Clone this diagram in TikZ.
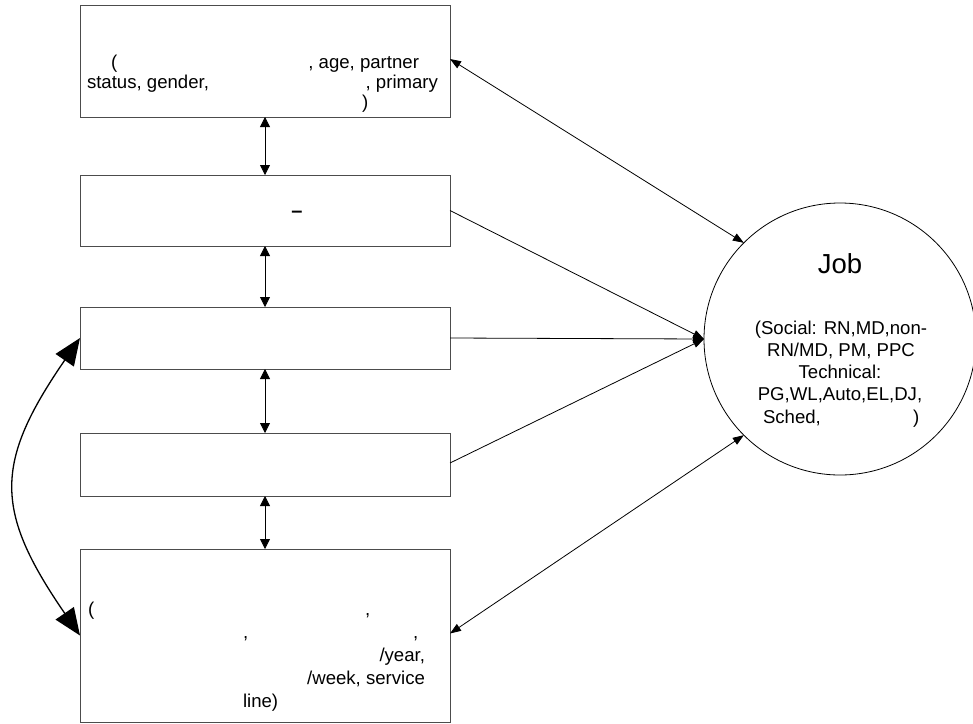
\documentclass[tikz,border=0pt]{standalone}
\usepackage{fontspec}
\setmainfont{Liberation Sans}
\usetikzlibrary{arrows.meta}

\begin{document}
\begin{tikzpicture}[x=1pt, y=-1pt,
  box/.style={draw=black!70, line width=0.9pt, rectangle, minimum width=370pt, inner sep=0pt, outer sep=0pt},
  txt/.style={inner sep=0pt, outer sep=0pt, font=\fontsize{18.6}{22}\selectfont},
  link/.style={line width=0.8pt, draw=black},
  vlink/.style={link, {Triangle[width=10pt,length=10pt]}-{Triangle[width=10pt,length=10pt]}},
  tojob/.style={link, -{Triangle[width=8pt,length=11pt]}},
  bothjob/.style={link, {Triangle[width=8pt,length=11pt]}-{Triangle[width=8pt,length=11pt]}},
  bigarc/.style={line width=1.3pt, {Triangle[width=22pt,length=27pt]}-{Triangle[width=22pt,length=27pt]}}
]
\useasboundingbox (0,0) rectangle (973,723);

% five boxes on the left
\node[box, minimum height=112pt] (b1) at (265,61) {};
\node[box, minimum height=71pt]  (b2) at (265,210.5) {};
\node[box, minimum height=62pt]  (b3) at (265,338) {};
\node[box, minimum height=63pt]  (b4) at (265,464.5) {};
\node[box, minimum height=173pt] (b5) at (265,635.5) {};

% the Job circle
\node[circle, draw=black, line width=0.8pt, minimum size=272pt, inner sep=0pt, outer sep=0pt] (job) at (840,339) {};

% texts of box 1
\node[txt, anchor=base west] (t1a) at (111,68) {(};
\node[txt, anchor=base east] (t1b) at (419,68) {, age, partner};
\node[txt, anchor=base west] (t1c) at (87,88) {status, gender,};
\node[txt, anchor=base east] (t1d) at (438,88) {, primary};
\node[txt, anchor=base west] (t1e) at (362,108) {)};

% text of box 2
\node[inner sep=0pt, outer sep=0pt, anchor=base, font=\fontsize{20}{22}\selectfont\bfseries] (t2a) at (297,217) {–};

% texts of box 5
\node[txt, anchor=base west] (t5a) at (88,615) {(};
\node[txt, anchor=base west] (t5b) at (365,615) {,};
\node[txt, anchor=base west] (t5c) at (243,638) {,};
\node[txt, anchor=base west] (t5d) at (413,638) {,};
\node[txt, anchor=base east] (t5e) at (425,661) {/year,};
\node[txt, anchor=base east] (t5f) at (425,684) {/week, service};
\node[txt, anchor=base west] (t5g) at (243,707) {line)};

% texts of the circle
\node[inner sep=0pt, outer sep=0pt, anchor=base, font=\fontsize{27.5}{30}\selectfont] (tj) at (840,273) {Job};
\node[txt, anchor=base] (tja) at (841,334) {(Social: RN,MD,non-};
\node[txt, anchor=base] (tjb) at (841,356) {RN/MD, PM, PPC};
\node[txt, anchor=base] (tjc) at (840,378) {Technical:};
\node[txt, anchor=base] (tjd) at (840,400) {PG,WL,Auto,EL,DJ,};
\node[txt, anchor=base west] (tje) at (763,423) {Sched,};
\node[txt, anchor=base west] (tjf) at (913,423) {)};

% links between neighbouring boxes
\draw[vlink] (b1.south) -- (b2.north);
\draw[vlink] (b2.south) -- (b3.north);
\draw[vlink] (b3.south) -- (b4.north);
\draw[vlink] (b4.south) -- (b5.north);

% links to the circle
\draw[bothjob] ([yshift=2pt]b1.east) -- (job.135);
\draw[tojob] (b2.east) -- (job.west);
\draw[tojob] (b3.east) -- (job.west);
\draw[tojob] ([yshift=1.5pt]b4.east) -- (job.west);
\draw[bothjob] ([yshift=2pt]b5.east) -- (job.225);

% curved link between box 3 and box 5
\draw[bigarc] (b3.west) .. controls +(-86,125) and +(-86,-125) .. (b5.west);
\end{tikzpicture}
\end{document}
